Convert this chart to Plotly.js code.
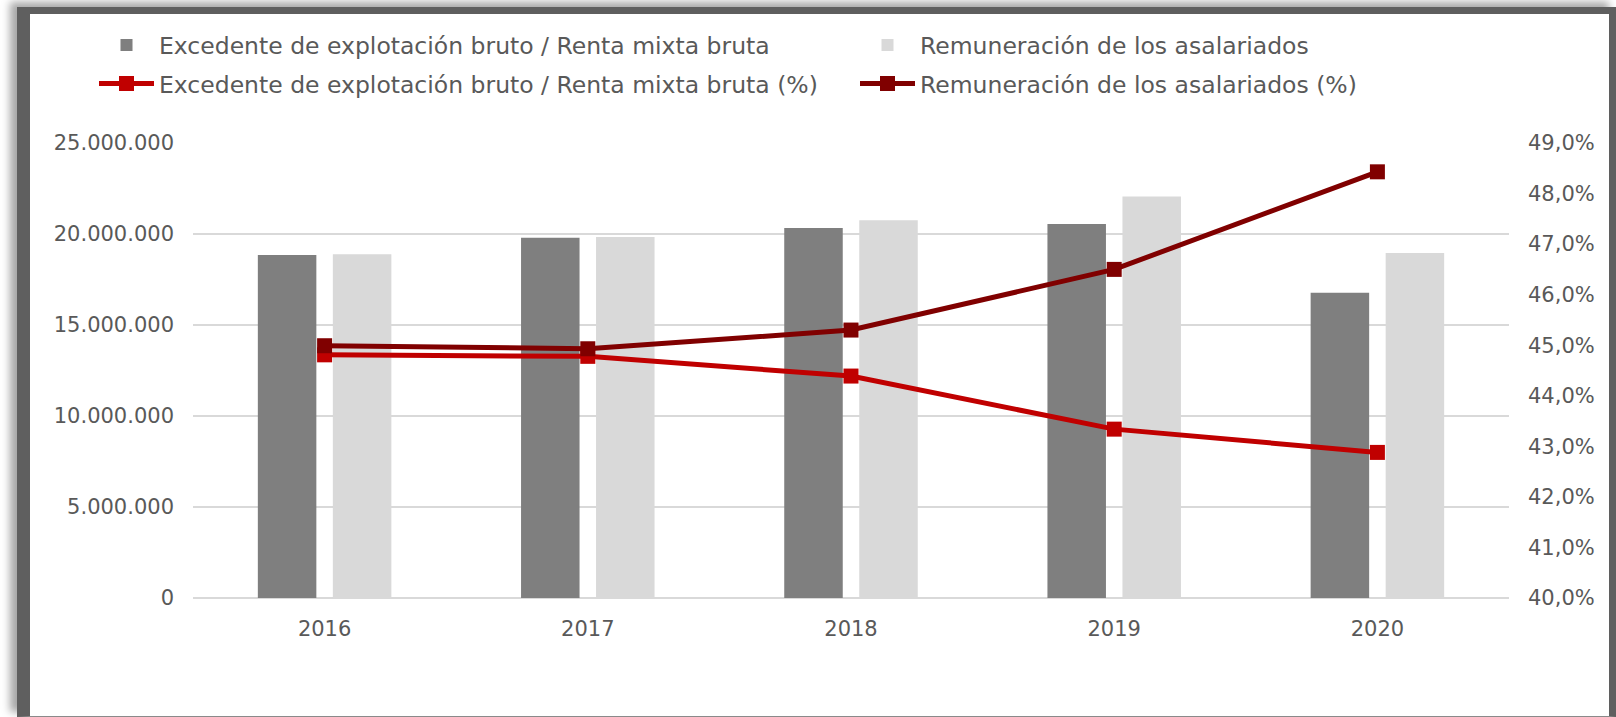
<!DOCTYPE html>
<html>
<head>
<meta charset="utf-8">
<script src="https://cdn.plot.ly/plotly-3.0.1.min.js"></script>
<style>
  html, body { margin: 0; padding: 0; background: #ffffff; }
  #wrap { position: relative; width: 1616px; height: 717px; overflow: hidden; }
  #chart { position: absolute; left: 0; top: 0; width: 1616px; height: 717px; }
  #frame {
    position: absolute; left: 17px; top: 7px; width: 1599px; height: 710px;
    box-sizing: border-box;
    border-left: 13px solid #5f5f5f; border-top: 7px solid #5f5f5f;
    border-right: 7px solid #5f5f5f; border-bottom: 1px solid #8a8a8a;
    box-shadow: -7px -5px 8px rgba(0,0,0,0.35);
    pointer-events: none;
  }
</style>
</head>
<body>
<div id="wrap">
  <div id="chart"></div>
  <div id="frame"></div>
</div>
<script>
// ---- Data ----
const years = ['2016', '2017', '2018', '2019', '2020'];
const excedente = [18840000, 19790000, 20330000, 20550000, 16770000];
const remuneracion = [18890000, 19840000, 20760000, 22060000, 18950000];
const excedentePct = [44.81, 44.78, 44.39, 43.34, 42.88];
const remuneracionPct = [44.99, 44.93, 45.30, 46.50, 48.43];

const nameExc = 'Excedente de explotación bruto / Renta mixta bruta';
const nameRem = 'Remuneración de los asalariados';

const FONT = '"DejaVu Sans", "Liberation Sans", sans-serif';
const TXT = '#595959';

const traces = [
  { type: 'bar', x: years, y: excedente, name: nameExc,
    marker: { color: '#7f7f7f' }, legend: 'legend', legendwidth: 691 },
  { type: 'bar', x: years, y: remuneracion, name: nameRem,
    marker: { color: '#d9d9d9' }, legend: 'legend', legendwidth: 480 },
  { type: 'scatter', mode: 'lines+markers', x: years, y: excedentePct, yaxis: 'y2',
    name: nameExc + ' (%)', line: { color: '#c00000', width: 5 },
    marker: { symbol: 'square', size: 15, color: '#c00000' },
    legend: 'legend2', legendwidth: 691 },
  { type: 'scatter', mode: 'lines+markers', x: years, y: remuneracionPct, yaxis: 'y2',
    name: nameRem + ' (%)', line: { color: '#800000', width: 5 },
    marker: { symbol: 'square', size: 15, color: '#800000' },
    legend: 'legend2', legendwidth: 480 }
];

const legendCommon = {
  orientation: 'h', xref: 'container', yref: 'container',
  xanchor: 'left', yanchor: 'middle', x: 94 / 1616,
  itemwidth: 55,
  entrywidthmode: 'pixels',
  font: { family: FONT, size: 23.5, color: TXT },
  bgcolor: 'rgba(0,0,0,0)', borderwidth: 0
};

const layout = {
  width: 1616, height: 717,
  margin: { l: 193, r: 107, t: 143, b: 119, pad: 0 },
  paper_bgcolor: '#ffffff', plot_bgcolor: '#ffffff',
  separators: ',.',
  font: { family: FONT, color: TXT },
  barmode: 'group', bargap: 0.43, bargroupgap: 0.22,
  showlegend: true,
  legend: Object.assign({}, legendCommon, { y: 1 - 45.3 / 717 }),
  legend2: Object.assign({}, legendCommon, { y: 1 - 83.7 / 717 }),
  xaxis: {
    type: 'category', showgrid: false, showline: false, ticks: '',
    tickfont: { family: FONT, size: 21, color: TXT }, ticklabelstandoff: 16
  },
  yaxis: {
    range: [0, 25000000], dtick: 5000000, tick0: 0, tickformat: ',d',
    showgrid: true, gridcolor: '#d9d9d9', gridwidth: 1.5,
    zeroline: true, zerolinecolor: '#d9d9d9', zerolinewidth: 2,
    showline: false, ticks: '', ticklabelstandoff: 18,
    tickfont: { family: FONT, size: 21, color: TXT }, fixedrange: true
  },
  yaxis2: {
    overlaying: 'y', side: 'right', range: [40, 49], dtick: 1, tick0: 40,
    tickformat: '.1f', ticksuffix: '%', showgrid: false, zeroline: false,
    showline: false, ticks: '', ticklabelstandoff: 18,
    tickfont: { family: FONT, size: 21, color: TXT }, fixedrange: true
  }
};

Plotly.newPlot('chart', traces, layout, { staticPlot: true, displayModeBar: false });
</script>
</body>
</html>
